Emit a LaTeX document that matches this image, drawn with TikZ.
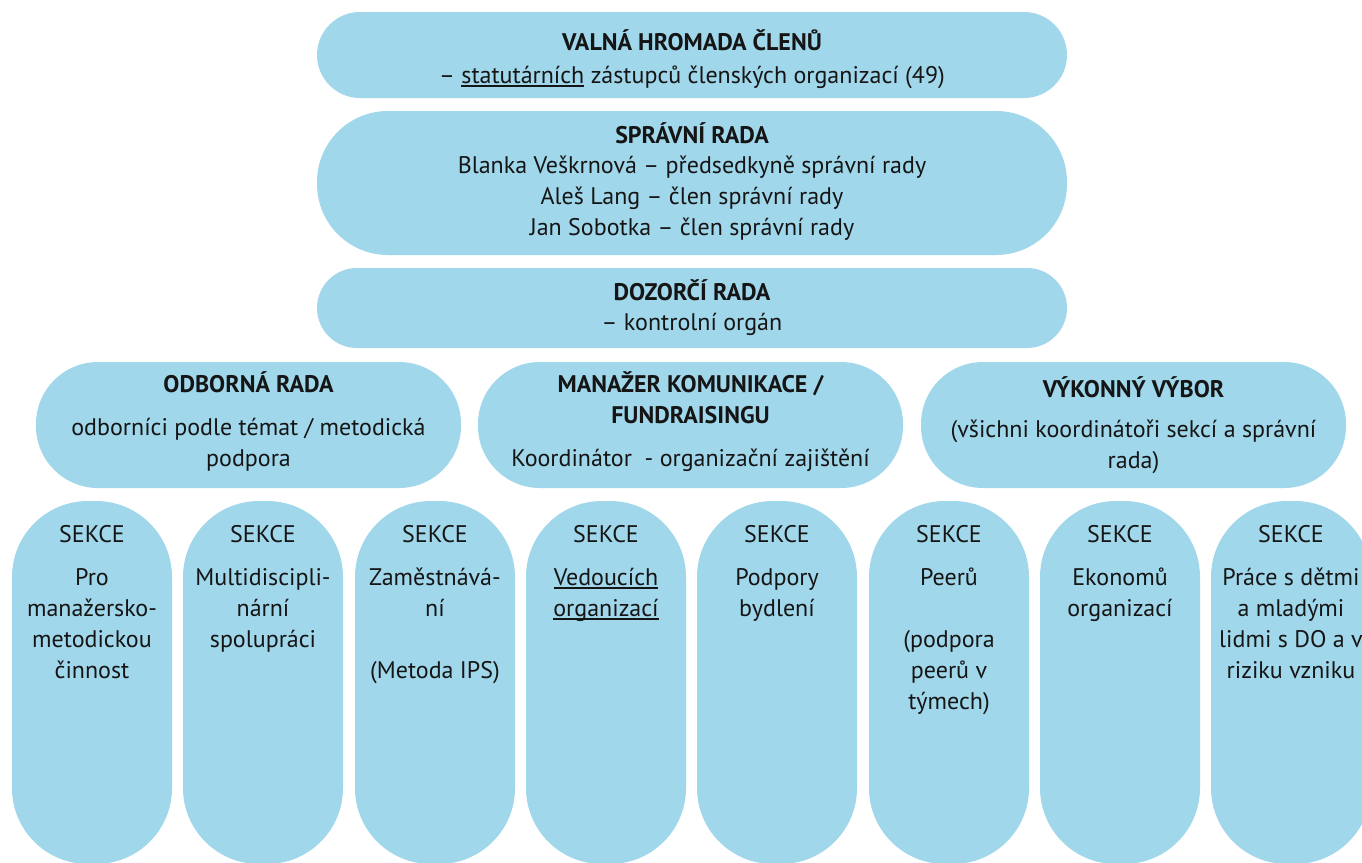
\documentclass[tikz,border=0pt]{standalone}
\usepackage{fontspec}
\setmainfont{PT Sans}
\newcommand\myul[1]{\setbox0\hbox{#1}\rlap{\rule[-3.5pt]{\wd0}{1.4pt}}\box0\relax}
\definecolor{boxblue}{HTML}{A0D7EB}
\definecolor{ink}{HTML}{151515}
\tikzset{
  blob/.style={fill=boxblue, draw=none, rectangle, inner sep=0pt},
  txt/.style={text=ink, align=center, inner sep=0pt, anchor=base, font=\fontsize{24}{31}\selectfont},
  ttl/.style={txt, font=\fontsize{24}{31}\selectfont\bfseries},
}
\begin{document}
\begin{tikzpicture}[x=1pt,y=-1pt]
\useasboundingbox (0,0) rectangle (1362,862);
\clip (0,0) rectangle (1362,862);
% top boxes
\node[blob, minimum width=750, minimum height=86, rounded corners=43] (valna) at (692,55) {};
\node[blob, minimum width=750, minimum height=144, rounded corners=71] (spravni) at (692,183) {};
\node[blob, minimum width=750, minimum height=80, rounded corners=40] (dozorci) at (692,308) {};
\node[blob, minimum width=425, minimum height=126, rounded corners=62] (odborna) at (248.5,425) {};
\node[blob, minimum width=425, minimum height=126, rounded corners=62] (manazer) at (690.5,425) {};
\node[blob, minimum width=425, minimum height=126, rounded corners=62] (vykonny) at (1133.5,425) {};
% texts (anchor = baseline of the last line)
\node[ttl] (valnaT) at (692,50) {VALNÁ HROMADA ČLENŮ};
\node[txt] (valnaS) at (692,83) {– \myul{statutárních} zástupců členských organizací (49)};
\node[ttl] (spravniT) at (692,143) {SPRÁVNÍ RADA};
\node[txt] (spravniS) at (692,235) {Blanka Veškrnová – předsedkyně správní rady\\Aleš Lang – člen správní rady\\Jan Sobotka – člen správní rady};
\node[ttl] (dozorciT) at (692,300) {DOZORČÍ RADA};
\node[txt] (dozorciS) at (692,330) {– kontrolní orgán};
\node[ttl] (odbornaT) at (248.5,392) {ODBORNÁ RADA};
\node[txt] (odbornaS) at (248.5,466) {odborníci podle témat / metodická\\podpora};
\node[ttl] (manazerT) at (690.5,423) {MANAŽER KOMUNIKACE /\\FUNDRAISINGU};
\node[txt] (manazerS) at (690.5,466) {Koordinátor\ \ - organizační zajištění};
\node[ttl] (vykonnyT) at (1133.5,397) {VÝKONNÝ VÝBOR};
\node[txt] (vykonnyS) at (1133.5,468) {(všichni koordinátoři sekcí a správní\\rada)};
% sections
\foreach \n/\l/\last/\body in {
  s1/12/678/{Pro\\manažersko-\\metodickou\\činnost},
  s2/183/647/{Multidiscipli-\\nární\\spolupráci},
  s3/355/678/{Zaměstnává-\\ní\\[31pt](Metoda IPS)},
  s4/526/616/{\myul{Vedoucích}\\\myul{organizací}},
  s5/697/616/{Podpory\\bydlení},
  s6/869/709/{Peerů\\[31pt](podpora\\peerů v\\týmech)},
  s7/1040/616/{Ekonomů\\organizací},
  s8/1211/678/{Práce s dětmi\\a mladými\\lidmi s DO a v\\riziku vzniku}}{
  \node[blob, minimum width=160, minimum height=363, rounded corners=76] (\n) at (\l+80,682.5) {};
  \node[txt] (\n h) at (\l+80,542) {SEKCE};
  \node[txt] (\n b) at (\l+80,\last) {\body};
}
\end{tikzpicture}
\end{document}
